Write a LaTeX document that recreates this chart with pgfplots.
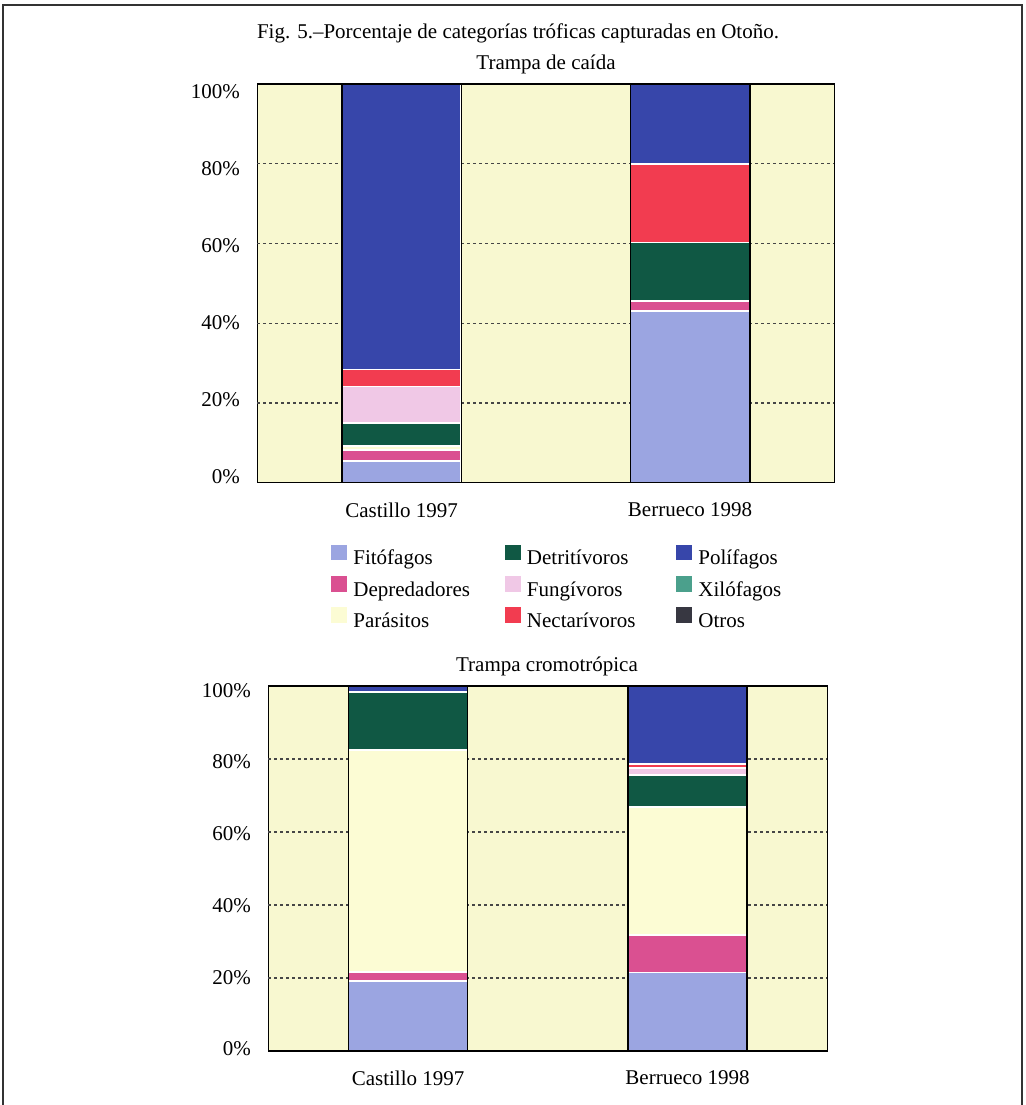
\documentclass[border=0pt]{standalone}
\usepackage{fontspec}
\setmainfont{Liberation Serif}
\usepackage{pgfplots}
\pgfplotsset{compat=1.18}
\definecolor{bgy}{RGB}{248,248,208}
\definecolor{cfito}{RGB}{155,165,225}
\definecolor{cdepre}{RGB}{218,80,145}
\definecolor{cpara}{RGB}{252,252,212}
\definecolor{cdetri}{RGB}{16,88,68}
\definecolor{cfungi}{RGB}{240,200,230}
\definecolor{cnect}{RGB}{242,60,80}
\definecolor{cpoli}{RGB}{55,70,170}
\definecolor{cxilo}{RGB}{75,160,140}
\definecolor{cotros}{RGB}{55,55,65}
\definecolor{cgrid}{RGB}{70,70,70}
\pgfplotsset{
  chartbase/.style={
    scale only axis, anchor=south west,
    xmin=-0.5, xmax=1.5, ymin=0, ymax=100,
    axis background/.style={fill=bgy},
    axis line style={black, line width=0.75pt},
    xtick={0,1}, xticklabels={Castillo 1997, Berrueco 1998},
    xticklabel style={anchor=north, inner sep=0pt, yshift=-9.8pt},
    yticklabel style={anchor=east, inner sep=0pt, xshift=-8.5pt},
    tick style={draw=none},
    major tick length=0pt,
    extra y ticks={20,40,60,80}, extra y tick labels={},
    extra y tick style={grid=major},
    major grid style={cgrid, line width=0.7pt, dash pattern=on 1.2pt off 1.8pt},
    /pgf/number format/assume math mode=true,
    ybar stacked,
    every axis plot/.append style={draw=white, line width=0.8pt},
    legend image code/.code={\fill[##1,draw=none] (0pt,-0.3pt) rectangle (8pt,7.5pt);},
  },
  outline/.style={
    scale only axis, anchor=south west,
    xmin=-0.5, xmax=1.5, ymin=0, ymax=100, hide axis, ybar,
  },
}
\begin{document}
\fontsize{10.5}{12.6}\selectfont
\begin{tikzpicture}[font=\fontsize{10.5}{12.6}\selectfont]
\useasboundingbox (0pt,0pt) rectangle (513pt,552.5pt);
\draw[line width=1.1pt, gray!40!black] (1.5pt,0pt) -- (1.5pt,550pt) -- (511pt,550pt) -- (511pt,0pt);
\node[anchor=base] at (259pt,533pt) {Fig. 5.--Porcentaje de categorías tróficas capturadas en Otoño.};
\node[anchor=base] at (273pt,517.5pt) {Trampa de caída};
\node[anchor=base] at (273.5pt,216.5pt) {Trampa cromotrópica};

% ---------- Top chart: Trampa de caída ----------
\begin{axis}[chartbase, at={(128.65pt,311.15pt)}, width=288.5pt, height=199.35pt, bar width=0.414,
  ytick={1.5,20.8,40.1,59.5,78.8,98.1}, yticklabels={0\%,20\%,40\%,60\%,80\%,100\%},
  legend columns=3, transpose legend, legend cell align=left,
  legend style={draw=none, fill=none, at={(0.1277,-0.1545)}, anchor=north west, inner sep=0pt,
    row sep=3.2pt, nodes={inner sep=0pt, text height=7.5pt, text depth=2.5pt},
    /tikz/every odd column/.style={column sep=3pt},
    /tikz/column 2/.style={column sep=17.5pt},
    /tikz/column 4/.style={column sep=20.5pt}},
]
\addplot[fill=cfito]  coordinates {(0,5.5) (1,43.0)};
\addlegendentry{Fitófagos}
\addplot[fill=cdepre] coordinates {(0,2.7) (1,2.5)};
\addlegendentry{Depredadores}
\addplot[fill=cpara]  coordinates {(0,1.0) (1,0)};
\addlegendentry{Parásitos}
\addplot[fill=cdetri] coordinates {(0,5.8) (1,14.7)};
\addlegendentry{Detritívoros}
\addplot[fill=cfungi] coordinates {(0,9.1) (1,0)};
\addlegendentry{Fungívoros}
\addplot[fill=cnect]  coordinates {(0,4.3) (1,19.8)};
\addlegendentry{Nectarívoros}
\addplot[fill=cpoli]  coordinates {(0,71.6) (1,20.0)};
\addlegendentry{Polífagos}
\addlegendimage{fill=cxilo}
\addlegendentry{Xilófagos}
\addlegendimage{fill=cotros}
\addlegendentry{Otros}
\end{axis}
\begin{axis}[outline, at={(128.65pt,311.15pt)}, width=288.5pt, height=199.35pt, bar width=0.414]
\addplot[fill=none, draw=black, line width=0.75pt] coordinates {(0,100) (1,100)};
\end{axis}

% ---------- Bottom chart: Trampa cromotrópica ----------
\begin{axis}[chartbase, at={(134.15pt,27pt)}, width=279.5pt, height=182.5pt, bar width=0.425,
  ytick={0.6,20.2,39.9,59.5,79.2,98.8}, yticklabels={0\%,20\%,40\%,60\%,80\%,100\%},
]
\addplot[fill=cfito]  coordinates {(0,19.2) (1,21.5)};
\addplot[fill=cdepre] coordinates {(0,2.4) (1,10.3)};
\addplot[fill=cpara]  coordinates {(0,60.8) (1,35.0)};
\addplot[fill=cdetri] coordinates {(0,15.9) (1,8.8)};
\addplot[fill=cfungi] coordinates {(0,0) (1,2.0)};
\addplot[fill=cnect]  coordinates {(0,0) (1,1.0)};
\addplot[fill=cpoli]  coordinates {(0,1.7) (1,21.4)};
\end{axis}
\begin{axis}[outline, at={(134.15pt,27pt)}, width=279.5pt, height=182.5pt, bar width=0.425]
\addplot[fill=none, draw=black, line width=0.75pt] coordinates {(0,100) (1,100)};
\end{axis}
\end{tikzpicture}
\end{document}
